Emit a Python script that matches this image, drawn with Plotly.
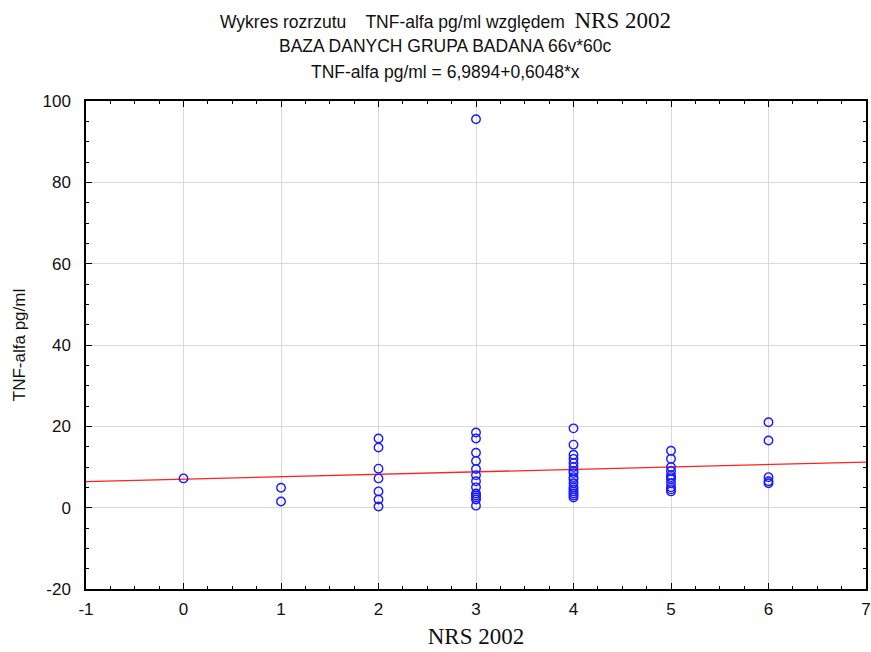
import numpy as np
import plotly.graph_objects as go

# NRS 2002 score and TNF-alfa values (pg/ml)
nrs_0 = [7.2]
nrs_1 = [4.9, 1.5]
nrs_2 = [17.0, 14.8, 9.6, 7.2, 4.0, 2.0, 0.3]
nrs_3 = [95.5, 18.5, 17.0, 13.5, 11.5, 9.5, 8.0, 6.5, 5.0, 3.5, 3.0, 2.5, 2.0, 0.5]
nrs_4 = [19.5, 15.5, 13.0, 12.0, 11.0, 10.0, 9.0, 8.5, 7.5, 7.0, 6.0, 5.0, 4.5, 4.0, 3.5, 3.0, 2.5]
nrs_5 = [14.0, 12.0, 10.0, 9.0, 8.0, 7.5, 7.0, 6.0, 5.0, 4.5, 4.0]
nrs_6 = [21.0, 16.5, 7.5, 6.5, 6.0]

groups = [nrs_0, nrs_1, nrs_2, nrs_3, nrs_4, nrs_5, nrs_6]
xs, ys = [], []
for score, vals in enumerate(groups):
    xs += [score] * len(vals)
    ys += vals

intercept = 6.9894
slope = 0.6048
line_x = np.array([-1.0, 7.0])
line_y = intercept + slope * line_x

x_ticks = [-1, 0, 1, 2, 3, 4, 5, 6, 7]
x_labels = ["-1", "0", "1", "2", "3", "4", "5", "6", "7"]
y_ticks = [-20, 0, 20, 40, 60, 80, 100]
y_labels = ["-20", "0", "20", "40", "60", "80", "100"]

fig = go.Figure()
fig.add_trace(go.Scatter(x=line_x, y=line_y, mode="lines",
                         line=dict(color="#ff2020", width=1.3), showlegend=False))
fig.add_trace(go.Scatter(x=xs, y=ys, mode="markers",
                         marker=dict(symbol="circle-open", size=8.5, color="#1a1aff",
                                     line=dict(width=1.4, color="#1a1aff")),
                         showlegend=False))

arial = "Liberation Sans, Arial, sans-serif"
times = "Liberation Serif, Times New Roman, serif"

axis_common = dict(showline=True, linecolor="black", linewidth=1.5, mirror="ticks",
                   ticks="inside", ticklen=6, tickcolor="black", tickwidth=1.2,
                   showgrid=True, gridcolor="#d9d9d9", gridwidth=1.3, zeroline=False,
                   automargin=False,
                   tickfont=dict(family=arial, size=17, color="#111"))

fig.update_layout(
    width=871, height=652,
    margin=dict(l=86, r=5, t=101, b=63),
    paper_bgcolor="white", plot_bgcolor="white",
    xaxis=dict(range=[-1, 7], tickvals=x_ticks, ticktext=x_labels, ticklabelstandoff=4,
               minor=dict(dtick=0.25, ticks="inside", ticklen=3, tickcolor="black", showgrid=False),
               title=dict(text="NRS 2002", font=dict(family=times, size=23, color="#111"), standoff=10),
               **axis_common),
    yaxis=dict(range=[-20, 100], tickvals=y_ticks, ticktext=y_labels, ticklabelstandoff=10,
               minor=dict(dtick=5, ticks="inside", ticklen=3, tickcolor="black", showgrid=False),
               title=dict(text="TNF-alfa pg/ml", font=dict(family=arial, size=17, color="#111"), standoff=13),
               **axis_common),
    annotations=[
        dict(text="Wykres rozrzutu    TNF-alfa pg/ml względem  <span style='font-family:Liberation Serif, Times New Roman, serif;font-size:23px'>NRS 2002</span>",
             x=0.461, y=20, xref="paper", yref="paper", showarrow=False,
             font=dict(family=arial, size=17.5, color="#111"), xanchor="center", yanchor="middle"),
        dict(text="BAZA DANYCH GRUPA BADANA 66v*60c",
             x=0.461, y=46, xref="paper", yref="paper", showarrow=False,
             font=dict(family=arial, size=17.5, color="#111"), xanchor="center", yanchor="middle"),
        dict(text="TNF-alfa pg/ml = 6,9894+0,6048*x",
             x=0.461, y=72, xref="paper", yref="paper", showarrow=False,
             font=dict(family=arial, size=17.5, color="#111"), xanchor="center", yanchor="middle"),
    ],
)

# convert annotation pixel rows to paper coordinates
plot_h = 652 - 101 - 63
for a in fig.layout.annotations:
    a.y = 1 + (101 - a.y) / plot_h

fig.write_html("out.html")
